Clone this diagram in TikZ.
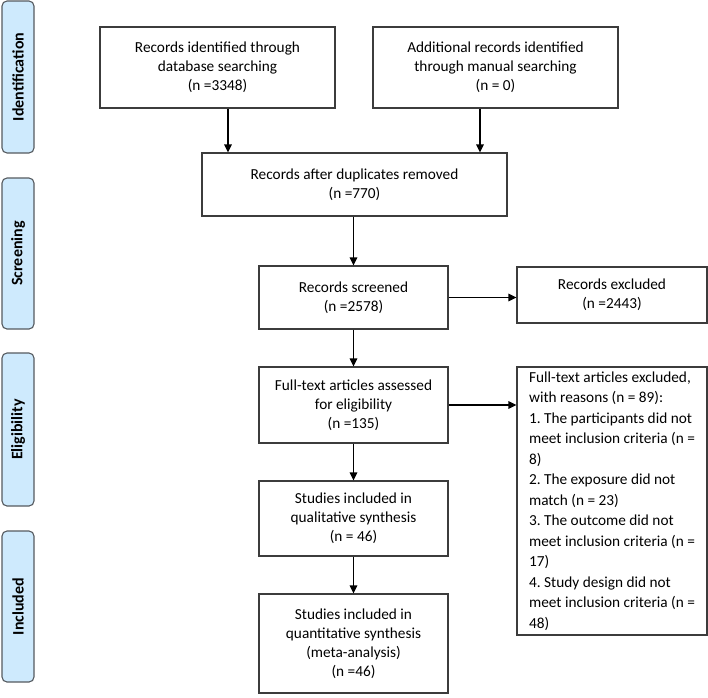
\documentclass[tikz,border=0pt]{standalone}
\usepackage{fontspec}
\setmainfont{Carlito}
\usetikzlibrary{arrows.meta}

\definecolor{stagefill}{RGB}{206,234,253}
\definecolor{stageline}{RGB}{85,90,95}
\definecolor{boxline}{RGB}{60,60,60}

\begin{document}
\frenchspacing
\begin{tikzpicture}[x=1pt, y=-1pt,
        box/.style={draw=boxline, line width=1.2pt, inner sep=0pt, align=center,
            font=\fontsize{15.3}{19}\selectfont},
        stage/.style={draw=stageline, fill=stagefill, line width=1.1pt, rounded corners=5pt,
            minimum width=32pt, inner sep=0pt, rotate=90,
            font=\bfseries\fontsize{16}{19}\selectfont},
        arr/.style={line width=1.4pt, -{Triangle[length=8pt,width=7.5pt]}}]
                \useasboundingbox (0, 0) rectangle (708, 697);
                % phases on the left
                \node[stage, minimum height=32pt, minimum width=152pt] (ident) at (18, 77) {Identification};
                \node[stage, minimum height=32pt, minimum width=151pt] (screen) at (18, 253.5) {Screening};
                \node[stage, minimum height=32pt, minimum width=153pt] (elig) at (18, 429.5) {Eligibility};
                \node[stage, minimum height=32pt, minimum width=151pt] (incl) at (18, 606.5) {Included};
                % flow boxes
                \node[box, minimum width=235pt, minimum height=81pt] (dbase) at (217.5, 67.5)
                    {Records identified through\\database searching\\(n =3348)};
                \node[box, minimum width=245pt, minimum height=81pt] (manual) at (495.5, 67.5)
                    {Additional records identified\\through manual searching\\(n = 0)};
                \node[box, minimum width=305pt, minimum height=63pt] (dedup) at (354.5, 184.5)
                    {Records after duplicates removed\\(n =770)};
                \node[box, minimum width=189pt, minimum height=63pt] (screened) at (353.5, 297.5)
                    {Records screened\\(n =2578)};
                \node[box, minimum width=190pt, minimum height=56pt] (excl) at (612, 295)
                    {Records excluded\\(n =2443)};
                \node[box, minimum width=189pt, minimum height=76pt] (fulltext) at (353.5, 405)
                    {Full-text articles assessed\\for eligibility\\(n =135)};
                \node[box, minimum width=190pt, minimum height=268pt, align=left,
                    font=\fontsize{15.3}{20.5}\selectfont] (ftexcl) at (612, 501)
                    {Full-text articles excluded,\\with reasons (n = 89):\\1. The participants did not\\meet inclusion criteria (n =\\8)\\2. The exposure did not\\match (n = 23)\\3. The outcome did not\\meet inclusion criteria (n =\\17)\\4. Study design did not\\meet inclusion criteria (n =\\48)};
                \node[box, minimum width=189pt, minimum height=75pt] (qual) at (353.5, 518.5)
                    {Studies included in\\qualitative synthesis\\(n = 46)};
                \node[box, minimum width=189pt, minimum height=99pt] (quant) at (353.5, 643.5)
                    {Studies included in\\quantitative synthesis\\(meta-analysis)\\(n =46)};
                % arrows
                \draw[arr] ([xshift=10.5pt]dbase.south) -- ([xshift=10.5pt]dbase.south |- dedup.north);
                \draw[arr] ([xshift=-15.5pt]manual.south) -- ([xshift=-15.5pt]manual.south |- dedup.north);
                \draw[arr] (dedup.south -| screened.north) -- (screened.north);
                \draw[arr] (screened.east) -- (screened.east -| excl.west);
                \draw[arr] (screened.south) -- (fulltext.north);
                \draw[arr] (fulltext.east) -- (fulltext.east -| ftexcl.west);
                \draw[arr] (fulltext.south) -- (qual.north);
                \draw[arr] (qual.south) -- (quant.north);
\end{tikzpicture}
\end{document}
